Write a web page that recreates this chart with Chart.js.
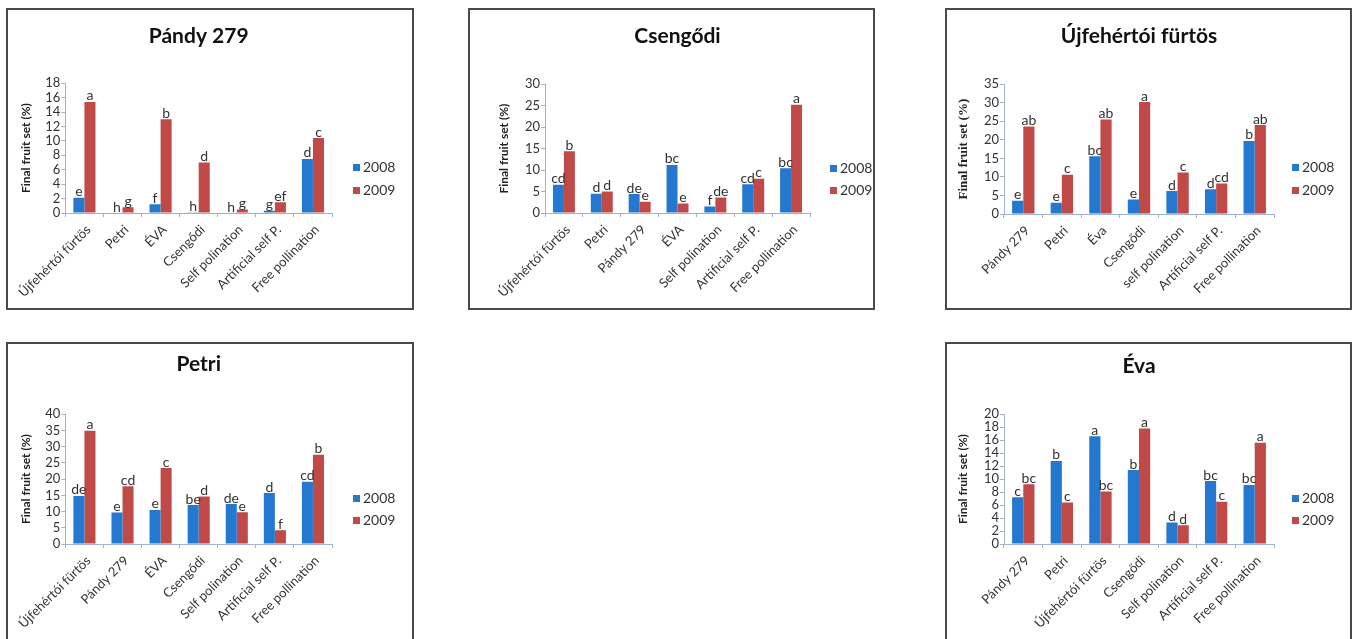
<!DOCTYPE html>
<html>
<head>
<meta charset="utf-8">
<script src="https://cdn.jsdelivr.net/npm/chart.js@4.4.0/dist/chart.umd.min.js"></script>
<style>
  body { margin: 0; background: #fff; width: 1355px; height: 639px; overflow: hidden; position: relative; font-family: Lato, sans-serif; }
  .panel { position: absolute; border: 2px solid #4a4a4a; background: #fff; }
  .panel canvas { position: absolute; left: 0; top: 0; }
  .lg { position: absolute; height: 16px; line-height: 16px; font-size: 14px; color: #333; white-space: nowrap; }
  .lg i { display: inline-block; width: 7px; height: 7px; margin-right: 3px; vertical-align: 1px; }
</style>
</head>
<body>

<div class="panel" id="p1" style="left:6px;top:8px;width:404px;height:298px"><canvas id="c1" width="404" height="298"></canvas></div>
<div class="panel" id="p2" style="left:468px;top:8px;width:403px;height:298px"><canvas id="c2" width="403" height="298"></canvas></div>
<div class="panel" id="p3" style="left:945px;top:8px;width:403px;height:298px"><canvas id="c3" width="403" height="298"></canvas></div>
<div class="panel" id="p4" style="left:6px;top:342px;width:404px;height:298px"><canvas id="c4" width="404" height="298"></canvas></div>
<div class="panel" id="p5" style="left:945px;top:342px;width:403px;height:298px"><canvas id="c5" width="403" height="298"></canvas></div>

<script>
const years = ['2008', '2009'];

// Pándy 279
const pandyCats = ['Újfehértói fürtös', 'Petri', 'ÉVA', 'Csengődi', 'Self polination', 'Artificial self P.', 'Free pollination'];
const pandy2008 = [2.1, 0, 1.2, 0.1, 0, 0.3, 7.5];
const pandy2009 = [15.4, 0.8, 13.0, 7.0, 0.5, 1.5, 10.4];
const pandyLet2008 = ['e', 'h', 'f', 'h', 'h', 'g', 'd'];
const pandyLet2009 = ['a', 'g', 'b', 'd', 'g', 'ef', 'c'];

// Csengődi
const csengCats = ['Újfehértói fürtös', 'Petri', 'Pándy 279', 'ÉVA', 'Self polination', 'Artificial self P.', 'Free pollination'];
const cseng2008 = [6.6, 4.5, 4.4, 11.2, 1.5, 6.7, 10.4];
const cseng2009 = [14.4, 5.0, 2.6, 2.2, 3.6, 8.0, 25.2];
const csengLet2008 = ['cd', 'd', 'de', 'bc', 'f', 'cd', 'bc'];
const csengLet2009 = ['b', 'd', 'e', 'e', 'de', 'c', 'a'];

// Újfehértói fürtös
const ujfCats = ['Pándy 279', 'Petri', 'Éva', 'Csengődi', 'self polination', 'Artificial self P.', 'Free pollination'];
const ujf2008 = [3.6, 3.0, 15.6, 3.9, 6.2, 6.7, 19.7];
const ujf2009 = [23.6, 10.6, 25.5, 30.2, 11.2, 8.2, 24.0];
const ujfLet2008 = ['e', 'e', 'bc', 'e', 'd', 'd', 'b'];
const ujfLet2009 = ['ab', 'c', 'ab', 'a', 'c', 'cd', 'ab'];

// Petri
const petriCats = ['Újfehértói fürtös', 'Pándy 279', 'ÉVA', 'Csengődi', 'Self polination', 'Artificial self P.', 'Free pollination'];
const petri2008 = [14.8, 9.7, 10.5, 12.0, 12.3, 15.7, 19.2];
const petri2009 = [34.9, 17.8, 23.4, 14.6, 9.8, 4.2, 27.5];
const petriLet2008 = ['de', 'e', 'e', 'be', 'de', 'd', 'cd'];
const petriLet2009 = ['a', 'cd', 'c', 'd', 'e', 'f', 'b'];

// Éva
const evaCats = ['Pándy 279', 'Petri', 'Újfehértói fürtös', 'Csengődi', 'Self polination', 'Artificial self P.', 'Free pollination'];
const eva2008 = [7.2, 12.8, 16.6, 11.4, 3.3, 9.7, 9.1];
const eva2009 = [9.2, 6.4, 8.1, 17.8, 2.9, 6.5, 15.6];
const evaLet2008 = ['c', 'b', 'a', 'b', 'd', 'bc', 'bc'];
const evaLet2009 = ['bc', 'c', 'bc', 'a', 'd', 'c', 'a'];

const BLUE = '#2478cf';
const RED = '#bf4a48';
const AXIS = '#9fb4cc';
const TEXT = '#333';

function letterPlugin(sets) {
  return {
    id: 'barLetters',
    afterDatasetsDraw(chart) {
      const ctx = chart.ctx;
      ctx.save();
      ctx.font = '14px Lato';
      ctx.fillStyle = TEXT;
      ctx.textAlign = 'center';
      ctx.textBaseline = 'bottom';
      sets.forEach((letters, i) => {
        chart.getDatasetMeta(i).data.forEach((bar, j) => {
          ctx.fillText(letters[j], bar.x, bar.y + 1);
        });
      });
      ctx.restore();
    }
  };
}

function makeChart(canvasId, panelId, title, cats, v08, v09, l08, l09, o) {
  const ctx = document.getElementById(canvasId).getContext('2d');
  new Chart(ctx, {
    type: 'bar',
    data: {
      labels: cats,
      datasets: [
        { label: years[0], data: v08, backgroundColor: BLUE },
        { label: years[1], data: v09, backgroundColor: RED }
      ]
    },
    options: {
      responsive: false,
      animation: false,
      layout: { padding: { left: 0, right: o.padR, top: 0, bottom: 0 } },
      datasets: { bar: { categoryPercentage: 0.58, barPercentage: 1 } },
      plugins: {
        legend: { display: false },
        tooltip: { enabled: false },
        title: {
          display: true,
          text: title,
          fullSize: false,
          color: '#111',
          font: { family: 'Lato', size: 21, weight: 'bold' },
          padding: { top: o.tTop, bottom: o.tBot }
        }
      },
      scales: {
        x: {
          grid: { drawOnChartArea: false, color: AXIS, tickLength: 4, offset: true },
          border: { color: AXIS },
          ticks: { autoSkip: false, maxRotation: 45, minRotation: 45, color: TEXT, font: { family: 'Lato', size: 13 }, padding: 5, labelOffset: 4 },
          afterFit: s => { s.height = o.xH; }
        },
        y: {
          min: 0,
          max: o.yMax,
          ticks: { autoSkip: false, stepSize: o.step, color: TEXT, font: { family: 'Lato', size: 13 }, padding: 1 },
          grid: { drawOnChartArea: false, color: AXIS, tickLength: 4 },
          border: { color: AXIS },
          title: {
            display: true,
            text: 'Final fruit set (%)',
            color: '#222',
            font: o.yFont || { family: 'Lato', size: 12, weight: 'bold' },
            padding: { top: o.yTP, bottom: 0 }
          },
          afterFit: s => { s.width = o.axisW; }
        }
      }
    },
    plugins: [letterPlugin([l08, l09])]
  });

  // legend
  const panel = document.getElementById(panelId);
  [BLUE, RED].forEach((c, i) => {
    const d = document.createElement('div');
    d.className = 'lg';
    d.style.left = o.lgX + 'px';
    d.style.top = (o.lgY[i] - 8) + 'px';
    d.innerHTML = '<i style="background:' + c + '"></i>' + years[i];
    panel.appendChild(d);
  });
}

makeChart('c1', 'p1', 'Pándy 279', pandyCats, pandy2008, pandy2009, pandyLet2008, pandyLet2009,
  { yMax: 18, step: 2, axisW: 56, padR: 80, tTop: 14, tBot: 34, yTP: 10, xH: 95, lgX: 345, lgY: [157, 180] });

makeChart('c2', 'p2', 'Csengődi', csengCats, cseng2008, cseng2009, csengLet2008, csengLet2009,
  { yMax: 30, step: 5, axisW: 75, padR: 63, tTop: 14, tBot: 35, yTP: 27, xH: 95, lgX: 360, lgY: [158, 180] });

makeChart('c3', 'p3', 'Újfehértói fürtös', ujfCats, ujf2008, ujf2009, ujfLet2008, ujfLet2009,
  { yMax: 35, step: 5, axisW: 57, padR: 76, tTop: 14, tBot: 35, yTP: 9, xH: 94, lgX: 345, lgY: [157, 180],
    yFont: { family: 'Liberation Serif', size: 13, weight: 'bold' } });

makeChart('c4', 'p4', 'Petri', petriCats, petri2008, petri2009, petriLet2008, petriLet2009,
  { yMax: 40, step: 5, axisW: 56, padR: 80, tTop: 8, tBot: 37, yTP: 10, xH: 98, lgX: 345, lgY: [154, 176] });

makeChart('c5', 'p5', 'Éva', evaCats, eva2008, eva2009, evaLet2008, evaLet2009,
  { yMax: 20, step: 2, axisW: 57, padR: 76, tTop: 10, tBot: 35, yTP: 9, xH: 98, lgX: 345, lgY: [154, 176] });
</script>
</body>
</html>
